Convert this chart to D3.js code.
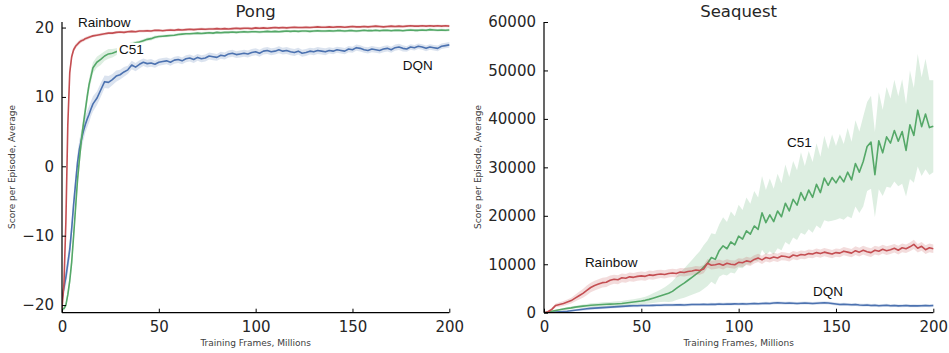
<!DOCTYPE html>
<html>
<head>
<meta charset="utf-8">
<script src="https://cdn.jsdelivr.net/npm/d3@7"></script>
<style>
  html, body { margin: 0; padding: 0; background: #fff; }
  svg { display: block; }
</style>
</head>
<body>
<svg id="chart" width="949" height="353"></svg>
<script>
// ---------------- DATA ----------------
const xTicks = [0, 50, 100, 150, 200];
const pongYTicks = [-20, -10, 0, 10, 20];
const seaYTicks = [0, 10000, 20000, 30000, 40000, 50000, 60000];
const titles = ["Pong", "Seaquest"];
const xLabel = "Training Frames, Millions";
const yLabel = "Score per Episode, Average";
const seriesNames = ["DQN", "C51", "Rainbow"];

const pongFrames = [
  0,1,2,3,4,5,6,7,8,9,10,11,12,13,14,15,16,
  18,20,22,24,26,28,30,32,34,36,
  38,40,42,44,46,48,50,52,54,56,
  58,60,62,64,66,68,70,72,74,76,
  78,80,82,84,86,88,90,92,94,96,
  98,100,102,104,106,108,110,112,114,116,
  118,120,122,124,126,128,130,132,134,136,
  138,140,142,144,146,148,150,152,154,156,
  158,160,162,164,166,168,170,172,174,176,
  178,180,182,184,186,188,190,192,194,196,
  198,200];

const pongRainbow = [
  -20.5,-17,-8,6,13.5,15.8,16.8,17.3,17.6,17.9,18.1,18.2,18.4,18.5,18.6,18.7,18.8,
  18.9,19.0,19.1,19.2,19.2,19.3,19.35,19.3,19.4,19.45,
  19.4,19.5,19.5,19.55,19.5,19.6,19.6,19.55,19.6,19.65,
  19.6,19.7,19.65,19.7,19.75,19.7,19.75,19.8,19.75,19.8,
  19.8,19.85,19.8,19.85,19.8,19.85,19.9,19.85,19.9,19.9,
  19.85,19.95,19.9,19.95,19.9,19.95,20.0,19.95,20.0,19.95,
  20.0,20.05,20.0,20.0,20.05,20.0,20.05,20.1,20.05,20.05,
  20.1,20.05,20.1,20.1,20.05,20.1,20.15,20.1,20.1,20.15,
  20.1,20.15,20.2,20.15,20.1,20.15,20.2,20.15,20.2,20.15,
  20.2,20.25,20.2,20.2,20.25,20.2,20.25,20.2,20.25,20.2,
  20.25,20.2];
const pongRainbowErr = [
  0.3,0.8,1.2,1.2,0.8,0.5,0.4,0.35,0.3,0.3,0.3,0.25,0.25,0.25,0.25,0.2,0.2,
  0.2,0.2,0.2,0.2,0.2,0.2,0.2,0.2,0.2,0.2,
  0.2,0.2,0.2,0.2,0.2,0.2,0.2,0.2,0.2,0.2,
  0.2,0.2,0.2,0.2,0.2,0.2,0.2,0.2,0.2,0.2,
  0.2,0.2,0.2,0.2,0.2,0.2,0.2,0.2,0.2,0.2,
  0.2,0.2,0.2,0.2,0.2,0.2,0.2,0.2,0.2,0.2,
  0.2,0.2,0.2,0.2,0.2,0.2,0.2,0.2,0.2,0.2,
  0.2,0.2,0.2,0.2,0.2,0.2,0.2,0.2,0.2,0.2,
  0.2,0.2,0.2,0.2,0.2,0.2,0.2,0.2,0.2,0.2,
  0.2,0.2,0.2,0.2,0.2,0.2,0.2,0.2,0.2,0.2,
  0.2,0.2];

const pongC51 = [
  -20.6,-20.5,-20.0,-18.5,-16.5,-13.8,-10,-6,-2,1,3.8,6,8,10,11.8,13,14.2,
  15.0,15.4,15.9,16.2,16.3,16.5,16.9,17.2,17.4,17.6,
  17.8,17.9,18.1,18.3,18.4,18.6,18.7,18.75,18.8,18.85,
  18.9,19.0,19.05,19.1,19.1,19.15,19.2,19.15,19.2,19.25,
  19.2,19.3,19.25,19.3,19.3,19.35,19.3,19.35,19.4,19.35,
  19.4,19.4,19.35,19.4,19.45,19.4,19.45,19.4,19.45,19.5,
  19.45,19.5,19.45,19.5,19.5,19.45,19.5,19.55,19.5,19.5,
  19.55,19.5,19.55,19.55,19.5,19.55,19.55,19.5,19.55,19.6,
  19.55,19.55,19.6,19.55,19.6,19.6,19.55,19.6,19.6,19.55,
  19.6,19.65,19.6,19.6,19.65,19.6,19.7,19.65,19.6,19.65,
  19.6,19.65];
const pongC51Err = [
  0.3,0.3,0.4,0.6,0.8,1.0,1.2,1.3,1.3,1.3,1.2,1.1,1.0,1.0,0.9,0.9,0.8,
  0.8,0.8,0.7,0.7,0.6,0.5,0.4,0.35,0.3,0.3,
  0.25,0.25,0.25,0.25,0.25,0.25,0.2,0.2,0.2,0.2,
  0.2,0.2,0.2,0.2,0.2,0.2,0.2,0.2,0.2,0.2,
  0.2,0.2,0.2,0.2,0.2,0.2,0.2,0.2,0.2,0.2,
  0.2,0.2,0.2,0.2,0.2,0.2,0.2,0.2,0.2,0.2,
  0.2,0.2,0.2,0.2,0.2,0.2,0.2,0.2,0.2,0.2,
  0.2,0.2,0.2,0.2,0.2,0.2,0.2,0.2,0.2,0.2,
  0.2,0.2,0.2,0.2,0.2,0.2,0.2,0.2,0.2,0.2,
  0.2,0.2,0.2,0.2,0.2,0.2,0.2,0.2,0.2,0.2,
  0.2,0.2];

const pongDQN = [
  -19,-17.5,-16,-14,-12,-9,-5.5,-2.5,0.5,2.5,3.8,5,6,6.8,7.5,8.3,9.0,
  9.8,11,12.2,12.1,12.5,13.0,13.2,13.6,13.9,14.6,
  14.3,14.7,15.0,14.8,14.9,14.7,15.0,15.1,15.2,15.0,
  15.3,15.4,15.2,15.5,15.6,15.4,15.7,15.5,15.6,15.9,
  15.8,15.7,16.0,15.9,16.2,16.3,16.1,16.2,16.3,16.2,
  16.4,16.5,16.3,16.6,16.7,16.5,16.6,16.8,16.6,16.7,
  16.5,16.4,16.6,16.3,16.4,16.6,16.5,16.7,16.6,16.5,
  16.7,16.6,16.8,16.7,16.6,16.9,16.8,17.1,17.0,16.8,
  16.7,16.9,16.8,16.7,16.9,17.0,16.8,17.1,17.2,17.0,
  16.9,17.2,17.1,17.3,17.2,17.0,17.2,17.1,17.0,17.3,
  17.4,17.5];
const pongDQNErr = [
  0.8,1.0,1.2,1.3,1.4,1.5,1.5,1.5,1.4,1.4,1.3,1.3,1.2,1.2,1.2,1.1,1.1,
  1.0,1.0,0.9,0.9,0.8,0.8,0.7,0.7,0.6,0.6,
  0.6,0.6,0.55,0.55,0.55,0.5,0.5,0.5,0.5,0.5,
  0.5,0.5,0.5,0.5,0.5,0.5,0.5,0.5,0.5,0.5,
  0.5,0.5,0.5,0.5,0.5,0.5,0.5,0.5,0.5,0.5,
  0.5,0.5,0.5,0.5,0.5,0.5,0.5,0.5,0.5,0.5,
  0.5,0.5,0.5,0.5,0.5,0.5,0.5,0.5,0.5,0.5,
  0.45,0.45,0.45,0.45,0.45,0.45,0.45,0.45,0.45,0.45,
  0.45,0.45,0.45,0.45,0.45,0.45,0.45,0.45,0.45,0.45,
  0.4,0.4,0.4,0.4,0.4,0.4,0.4,0.4,0.4,0.4,
  0.4,0.4];

const seaFrames = [
  0,2,4,6,8,10,12,14,16,18,
  20,22,24,26,28,30,32,34,36,38,
  40,42,44,46,48,50,52,54,56,58,
  60,62,64,66,68,70,72,74,76,78,
  80,82,84,86,88,90,92,94,96,98,
  100,102,104,106,108,110,112,114,116,118,
  120,122,124,126,128,130,132,134,136,138,
  140,142,144,146,148,150,152,154,156,158,
  160,162,164,166,168,170,172,174,176,178,
  180,182,184,186,188,190,192,194,196,198,
  200];

const seaRainbow = [
  0,200,700,1500,1700,1900,2200,2500,3000,3500,
  4000,4600,5200,5600,5900,6200,6300,6700,6900,6800,
  7200,7100,7400,7300,7500,7600,7500,7800,7700,7900,
  8000,7900,8100,8200,8100,8400,8300,8500,8600,8800,
  8700,9000,10200,9800,9900,10100,9800,10200,10000,9900,
  10400,10300,10700,10500,11000,11300,10900,11400,11200,11500,
  11300,11700,11600,11400,11900,11700,12000,11900,12200,12100,
  12400,12200,12500,12300,12100,12400,12300,12700,12500,12300,
  12800,12500,12900,12600,12400,12900,12700,13100,12800,13000,
  13300,12900,13400,13200,13600,14100,13300,13700,13000,13400,
  13200];
const seaRainbowErr = [
  100,200,300,400,450,500,550,600,700,800,
  900,1000,1000,1000,1000,1000,1000,1000,950,950,
  900,900,900,900,900,900,900,900,900,900,
  850,850,850,850,850,850,850,850,850,850,
  850,850,900,900,900,900,900,850,850,850,
  850,850,850,850,850,850,850,850,850,850,
  850,850,850,850,850,850,850,850,850,850,
  850,850,850,850,850,850,850,850,850,850,
  900,900,900,900,900,900,900,900,900,900,
  900,900,900,900,900,950,900,900,900,900,
  900];

const seaC51 = [
  0,100,300,450,600,750,900,1000,1150,1250,
  1350,1450,1550,1600,1650,1700,1750,1780,1800,1850,
  1900,2000,2100,2200,2300,2400,2550,2750,3000,3250,
  3500,3750,4000,4400,5000,5600,6100,6700,7300,7900,
  8500,9400,10200,11400,11000,12800,13800,13200,14600,14000,
  15800,15200,16900,16200,17900,17200,20600,18600,20200,18800,
  21000,19800,22600,21000,23400,22200,24800,23200,25300,23800,
  26500,24800,27800,26300,27900,26800,28200,27000,29000,27400,
  30800,29000,31200,34300,35200,28500,35500,33000,36300,35000,
  37600,35400,37400,33500,38800,36600,41800,38400,41000,38200,
  38500];
const seaC51Err = [
  50,100,150,200,200,250,250,300,300,300,
  350,350,400,400,400,450,450,450,500,500,
  500,550,550,600,650,700,750,850,1000,1150,
  1300,1500,1800,2100,2400,2700,3000,3300,3600,3900,
  4200,4500,4700,5000,5200,5400,5900,5500,6300,5900,
  6500,6000,6900,6300,7200,6600,7600,6700,7500,6800,
  7700,6900,8000,7000,7900,7200,8300,7100,8100,7300,
  8500,7400,8700,7500,8900,7600,8700,7800,9100,7900,
  8900,8400,9300,9200,9600,8800,10000,8900,10300,9200,
  10500,9300,10800,9500,11200,9800,11600,10200,11400,9800,
  9500];

const seaDQN = [
  0,50,100,150,200,250,300,400,500,600,
  700,800,900,950,1000,1050,1100,1150,1200,1250,
  1300,1350,1400,1420,1450,1480,1500,1500,1520,1550,
  1550,1580,1600,1580,1620,1650,1600,1650,1700,1680,
  1700,1720,1700,1750,1720,1780,1750,1800,1780,1820,
  1800,1850,1800,1850,1900,1850,1900,1950,1900,2000,
  2050,2000,1950,2000,1950,1900,1950,2000,1950,1900,
  1950,2000,2050,2000,1900,1800,1700,1750,1700,1650,
  1700,1600,1550,1600,1500,1550,1450,1500,1550,1450,
  1500,1400,1450,1500,1400,1450,1400,1450,1500,1450,
  1500];
const seaDQNErr = [
  30,50,80,100,120,150,180,200,220,250,
  280,300,300,300,300,300,300,300,300,300,
  300,300,300,300,300,300,300,300,300,300,
  300,300,300,300,300,300,300,300,300,300,
  300,300,300,300,300,300,300,300,300,300,
  300,300,300,300,300,300,300,300,300,300,
  300,300,300,300,300,300,300,300,300,300,
  300,300,300,300,300,300,300,300,300,300,
  300,300,300,300,300,300,300,300,300,300,
  300,300,300,300,300,300,300,300,300,300,
  300];

// ---------------- DRAWING ----------------
const colors = { DQN: "#4C72B0", C51: "#55A868", Rainbow: "#C44E52" };
const svg = d3.select("#chart");

const panels = [
  {
    title: titles[0], x0: 62, x1: 449.3, yTop: 22, yBot: 312.7,
    yDomain: [-21.1, 20.8], yTicks: pongYTicks, fmt: d3.format("d"),
    yLabelX: 12,
    frames: pongFrames,
    series: { DQN: [pongDQN, pongDQNErr], C51: [pongC51, pongC51Err], Rainbow: [pongRainbow, pongRainbowErr] },
    notes: [
      { text: "Rainbow", t: 8.3, v: 20.7, bg: false },
      { text: "C51", t: 29.4, v: 16.9, bg: true },
      { text: "DQN", t: 176, v: 14.5, bg: false }
    ]
  },
  {
    title: titles[1], x0: 544, x1: 933.3, yTop: 22, yBot: 312.7,
    yDomain: [0, 60000], yTicks: seaYTicks, fmt: d3.format("d"),
    yLabelX: 478,
    frames: seaFrames,
    series: { DQN: [seaDQN, seaDQNErr], C51: [seaC51, seaC51Err], Rainbow: [seaRainbow, seaRainbowErr] },
    notes: [
      { text: "Rainbow", t: 21, v: 10500, bg: false },
      { text: "C51", t: 124.8, v: 35250, bg: false },
      { text: "DQN", t: 138.2, v: 4330, bg: false }
    ]
  }
];

const tickFont = "'DejaVu Sans', sans-serif";
const tickColor = "#262626";

panels.forEach(p => {
  const x = d3.scaleLinear().domain([0, 200]).range([p.x0, p.x1]);
  const y = d3.scaleLinear().domain(p.yDomain).range([p.yBot, p.yTop]);
  const g = svg.append("g");

  const clipId = "clip-" + p.title;
  svg.append("clipPath").attr("id", clipId)
    .append("rect").attr("x", p.x0).attr("y", p.yTop - 5)
    .attr("width", p.x1 - p.x0 + 2).attr("height", p.yBot - p.yTop + 5);

  const plot = g.append("g").attr("clip-path", `url(#${clipId})`);

  seriesNames.forEach(name => {
    const [vals, errs] = p.series[name];
    const pts = p.frames.map((f, i) => ({ f, v: vals[i], e: errs[i] }));
    const area = d3.area()
      .x(d => x(d.f)).y0(d => y(d.v - d.e)).y1(d => y(d.v + d.e));
    const line = d3.line().x(d => x(d.f)).y(d => y(d.v));
    plot.append("path").datum(pts).attr("d", area)
      .attr("fill", colors[name]).attr("fill-opacity", 0.2).attr("stroke", "none");
    plot.append("path").datum(pts).attr("d", line)
      .attr("fill", "none").attr("stroke", colors[name]).attr("stroke-width", 1.6)
      .attr("stroke-linejoin", "round");
  });

  // axes (left + bottom spines, inward ticks)
  const xAxis = d3.axisBottom(x).tickValues(xTicks).tickSizeInner(-4).tickSizeOuter(0)
    .tickPadding(9).tickFormat(d3.format("d"));
  const gx = g.append("g").attr("transform", `translate(0,${p.yBot})`).call(xAxis);
  gx.select(".domain").remove();
  gx.append("line").attr("x1", p.x0).attr("x2", p.x1).attr("y1", 0).attr("y2", 0)
    .attr("stroke", "#000").attr("stroke-width", 1.2);

  const yAxis = d3.axisLeft(y).tickValues(p.yTicks).tickSizeInner(-4).tickSizeOuter(0)
    .tickPadding(8).tickFormat(p.fmt);
  const gy = g.append("g").attr("transform", `translate(${p.x0},0)`).call(yAxis);
  gy.select(".domain").remove();
  gy.append("line").attr("x1", 0).attr("x2", 0).attr("y1", p.yTop).attr("y2", p.yBot)
    .attr("stroke", "#000").attr("stroke-width", 1.2);

  [gx, gy].forEach(ax => {
    ax.selectAll(".tick line").attr("stroke", "#000").attr("stroke-width", 1);
    ax.selectAll(".tick text").attr("font-family", tickFont).attr("font-size", 15)
      .attr("fill", tickColor);
  });

  // title
  g.append("text").attr("x", (p.x0 + p.x1) / 2).attr("y", 17)
    .attr("text-anchor", "middle").attr("font-family", tickFont).attr("font-size", 16.5)
    .attr("fill", tickColor).text(p.title);

  // x label
  g.append("text").attr("x", (p.x0 + p.x1) / 2).attr("y", 346)
    .attr("text-anchor", "middle").attr("font-family", tickFont).attr("font-size", 9)
    .attr("fill", "#404040").text(xLabel);

  // y label
  g.append("text").attr("transform", `translate(${p.yLabelX},167) rotate(-90)`)
    .attr("text-anchor", "middle").attr("dominant-baseline", "central")
    .attr("font-family", tickFont).attr("font-size", 9)
    .attr("fill", "#404040").text(yLabel);

  // annotations
  p.notes.forEach(n => {
    const t = g.append("text").attr("x", x(n.t)).attr("y", y(n.v)).attr("dy", "0.35em")
      .attr("font-family", "'Liberation Sans', Arial, sans-serif").attr("font-size", 13.5)
      .attr("fill", "#111").text(n.text);
    if (n.bg) {
      const b = t.node().getBBox();
      g.insert("rect", () => t.node()).attr("x", b.x - 2).attr("y", b.y + 1)
        .attr("width", b.width + 4).attr("height", b.height - 2).attr("fill", "#fff");
    }
  });
});
</script>
</body>
</html>
